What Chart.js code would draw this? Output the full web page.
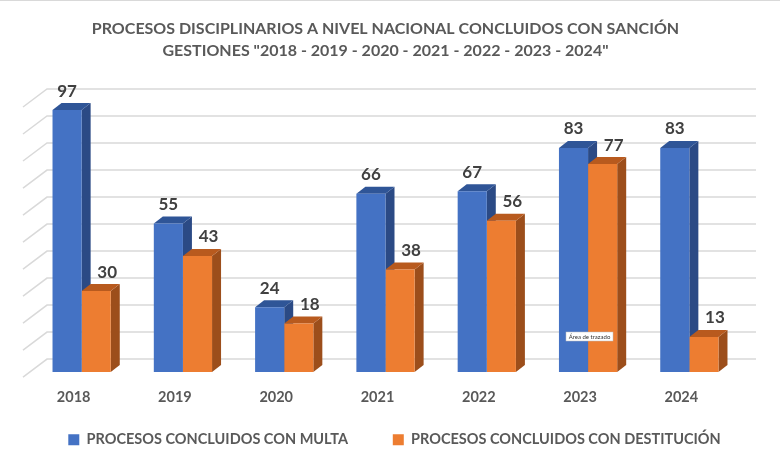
<!DOCTYPE html>
<html>
<head>
<meta charset="utf-8">
<script src="https://cdn.jsdelivr.net/npm/chart.js@4"></script>
<style>
  html, body { margin: 0; padding: 0; background: #fff; }
  #wrap { width: 780px; height: 470px; }
</style>
</head>
<body>
<div id="wrap"><canvas id="chart"></canvas></div>
<script>
const years = ['2018', '2019', '2020', '2021', '2022', '2023', '2024'];
const multa = [97, 55, 24, 66, 67, 83, 83];
const destitucion = [30, 43, 18, 38, 56, 77, 13];
const gridValues = [0, 10, 20, 30, 40, 50, 60, 70, 80, 90, 100];
const seriesNames = ['PROCESOS CONCLUIDOS CON MULTA', 'PROCESOS CONCLUIDOS CON DESTITUCIÓN'];

const FONT = 'Lato, "Open Sans", sans-serif';
const DEPTH_X = 9, DEPTH_Y = -7;

// caras laterales y superiores de las barras (efecto 3D), más la rejilla de fondo
const depthPlugin = {
    id: 'depth',
    afterLayout(chart) {
        // la leyenda del original está un poco corrida a la derecha
        chart.legend.left += 9;
        chart.legend.right += 9;
    },
    beforeDraw(chart) {
        const ctx = chart.ctx;
        ctx.save();
        ctx.strokeStyle = '#D9D9D9';
        ctx.lineWidth = 1;
        ctx.beginPath();
        ctx.moveTo(0, 0.5);
        ctx.lineTo(chart.width, 0.5);
        ctx.stroke();
        ctx.restore();
    },
    beforeDatasetsDraw(chart) {
        const ctx = chart.ctx;
        const area = chart.chartArea;
        const y = chart.scales.y;
        ctx.save();
        ctx.strokeStyle = '#D9D9D9';
        ctx.lineWidth = 1.5;
        gridValues.forEach(v => {
            const py = y.getPixelForValue(v);
            ctx.beginPath();
            ctx.moveTo(area.left - 8, py + 5);
            ctx.lineTo(area.left + 16, py - 13);
            ctx.lineTo(area.right + 16, py - 13);
            ctx.stroke();
        });
        const shades = [
            { side: '#2B4A85', top: '#2F5597' },
            { side: '#9C4E1B', top: '#B85A1E' }
        ];
        chart.data.datasets.forEach((ds, i) => {
            const meta = chart.getDatasetMeta(i);
            meta.data.forEach(bar => {
                const l = bar.x - bar.width / 2, r = bar.x + bar.width / 2;
                const t = bar.y, b = bar.base;
                ctx.fillStyle = shades[i].side;
                ctx.beginPath();
                ctx.moveTo(r, t);
                ctx.lineTo(r + DEPTH_X, t + DEPTH_Y);
                ctx.lineTo(r + DEPTH_X, b + DEPTH_Y);
                ctx.lineTo(r, b);
                ctx.closePath();
                ctx.fill();
                ctx.fillStyle = shades[i].top;
                ctx.beginPath();
                ctx.moveTo(l, t);
                ctx.lineTo(l + DEPTH_X, t + DEPTH_Y);
                ctx.lineTo(r + DEPTH_X, t + DEPTH_Y);
                ctx.lineTo(r, t);
                ctx.closePath();
                ctx.fill();
            });
        });
        ctx.restore();
    },
    afterDatasetsDraw(chart) {
        const ctx = chart.ctx;
        ctx.save();
        ctx.font = 'bold 17px ' + FONT;
        ctx.fillStyle = '#404040';
        ctx.textAlign = 'center';
        ctx.textBaseline = 'middle';
        const shift = [0, 11];
        chart.data.datasets.forEach((ds, i) => {
            chart.getDatasetMeta(i).data.forEach((bar, j) => {
                ctx.fillText(ds.data[j], bar.x + shift[i], bar.y - 19);
            });
        });
        // etiqueta emergente que aparece en la captura
        const bx = 566, by = 332;
        ctx.fillStyle = '#fff';
        ctx.fillRect(bx, by, 47, 9);
        ctx.strokeStyle = '#BFBFBF';
        ctx.lineWidth = 0.5;
        ctx.strokeRect(bx, by, 47, 9);
        ctx.font = '6px ' + FONT;
        ctx.fillStyle = '#333';
        ctx.fillText('Área de trazado', bx + 23.5, by + 4.8);
        ctx.restore();
    }
};

new Chart(document.getElementById('chart'), {
    type: 'bar',
    data: {
        labels: years,
        datasets: [{
            label: seriesNames[0],
            data: multa,
            backgroundColor: '#4472C4'
        }, {
            label: seriesNames[1],
            data: destitucion,
            backgroundColor: '#ED7D31'
        }]
    },
    options: {
        responsive: true,
        maintainAspectRatio: false,
        animation: false,
        layout: { padding: { left: 31, right: 40, top: 0, bottom: 13 } },
        datasets: { bar: { barPercentage: 1, categoryPercentage: 0.575 } },
        scales: {
            y: {
                display: false,
                min: 0,
                max: 100
            },
            x: {
                grid: { display: false },
                border: { display: false },
                ticks: {
                    color: '#595959',
                    font: { family: FONT, size: 14.5, weight: 'bold' },
                    padding: 9,
                    labelOffset: -8
                }
            }
        },
        plugins: {
            tooltip: { enabled: false },
            title: {
                display: true,
                text: ['PROCESOS DISCIPLINARIOS A NIVEL NACIONAL CONCLUIDOS CON SANCIÓN',
                       'GESTIONES "2018 - 2019 - 2020 - 2021 - 2022 - 2023 - 2024"'],
                color: '#595959',
                font: { family: FONT, size: 16, weight: 'bold', lineHeight: 1.375 },
                padding: { top: 18, bottom: 40 }
            },
            legend: {
                position: 'bottom',
                labels: {
                    color: '#595959',
                    font: { family: FONT, size: 14.5, weight: 'bold' },
                    boxWidth: 11,
                    boxHeight: 11,
                    padding: 17,
                    // separa las dos entradas como en la captura
                    generateLabels(chart) {
                        const items = Chart.defaults.plugins.legend.labels.generateLabels(chart);
                        items[0].text = items[0].text + '\u00A0'.repeat(8);
                        return items;
                    }
                }
            }
        }
    },
    plugins: [depthPlugin]
});
</script>
</body>
</html>
